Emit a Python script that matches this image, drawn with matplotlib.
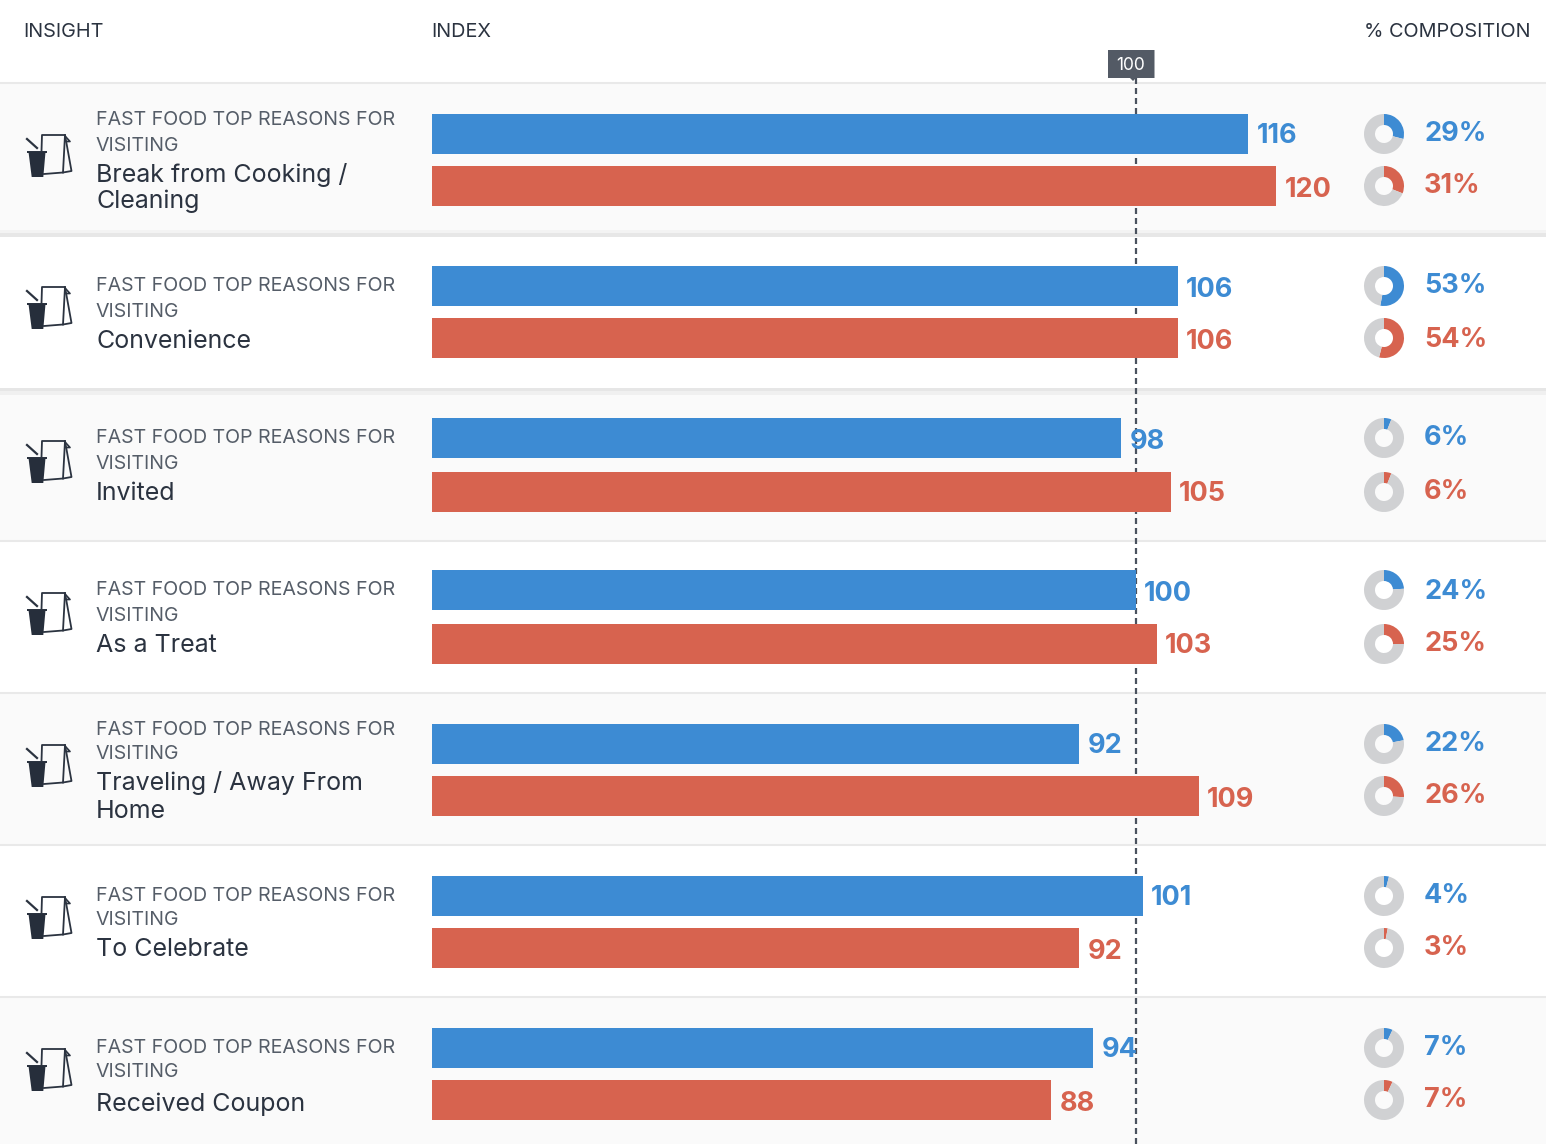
import matplotlib
matplotlib.use("Agg")
import matplotlib.pyplot as plt
from matplotlib.patches import Polygon, Rectangle

plt.rcParams['font.family'] = ['Inter', 'DejaVu Sans']

W, H = 1546, 1144
BLUE = '#3d8bd3'
RED = '#d7634f'
GREY = '#d0d1d3'
DARK = '#2b3340'
SUB = '#555d68'

# data
names = [["Break from Cooking /", "Cleaning"], ["Convenience"], ["Invited"], ["As a Treat"],
         ["Traveling / Away From", "Home"], ["To Celebrate"], ["Received Coupon"]]
subtitle = ["FAST FOOD TOP REASONS FOR", "VISITING"]
index_blue = [116, 106, 98, 100, 92, 101, 94]
index_red = [120, 106, 105, 103, 109, 92, 88]
comp_blue = [29, 53, 6, 24, 22, 4, 7]
comp_red = [31, 54, 6, 25, 26, 3, 7]
headers = ["INSIGHT", "INDEX", "% COMPOSITION"]

# layout in pixels
row_tops = [83, 237, 393, 541, 693, 845, 997]
row_bots = [235, 389, 541, 693, 845, 997, 1144]
shaded = [True, False, True, False, True, False, True]
blue_y = [114, 266, 418, 570, 724, 876, 1028]
red_y = [166, 318, 472, 624, 776, 928, 1080]
BAR_H = 40
PX_PER_UNIT = 7.035
icon_y = [135, 287, 441, 593, 745, 897, 1049]
sub_y = [(120, 146), (286, 312), (438, 464), (590, 616), (730, 754), (896, 920), (1048, 1072)]
name_y = [(175, 201), (342,), (494,), (646,), (783, 811), (950,), (1104,)]
val_off = [(2, 4), (4, 4), (4, 2), (4, 2), (2, 4), (2, 4), (2, 4)]
pct_off = [(0, 0), (0, 2), (0, 0), (2, 0), (0, 0), (0, 0), (0, 0)]


def add_axes_px(x0, y0, x1, y1, **kw):
    return fig.add_axes([x0 / W, 1 - y1 / H, (x1 - x0) / W, (y1 - y0) / H], **kw)


def draw_icon(ax, y):
    # y is the top of the bag
    dy = y - 135
    pts = [(41.5, 151), (42, 135), (65, 135), (71.5, 171), (63, 172.5), (44, 174)]
    ax.plot([a for a, b in pts], [b + dy for a, b in pts], color=DARK, lw=1.3, zorder=3)
    ax.plot([65, 63], [135 + dy, 172.5 + dy], color=DARK, lw=1.3, zorder=3)
    ax.plot([65, 70, 66], [136 + dy, 141.5 + dy, 141.5 + dy], color=DARK, lw=1.2, zorder=3)
    ax.plot([27, 37], [139 + dy, 148 + dy], color=DARK, lw=1.6, zorder=3)
    ax.add_patch(Rectangle((26.7, 151 + dy), 20.6, 2.4, fc=DARK, ec='none', zorder=4))
    cup = [(28.5, 152), (45.5, 152), (43.3, 177), (31.7, 177)]
    ax.add_patch(Polygon([(a, b + dy) for a, b in cup], fc='#262e3b', ec='none', zorder=4))


fig = plt.figure(figsize=(W / 100, H / 100), dpi=100, facecolor='white')

# background layer, in pixels
bg = add_axes_px(0, 0, W, H, zorder=0)
bg.set_xlim(0, W)
bg.set_ylim(H, 0)
bg.axis('off')

for top, bot, s in zip(row_tops, row_bots, shaded):
    if s:
        bg.add_patch(Rectangle((0, top), W, bot - top, fc='#fafafa', ec='none'))
for y in [83, 541, 693, 845, 997]:
    bg.plot([0, W], [y, y], color='#e9e9e9', lw=1.5)
for y0, y1, c in [(230, 233, '#f3f3f3'), (233, 237, '#e7e7e7'), (388, 391, '#e6e6e6'), (391, 395, '#f0f0f0')]:
    bg.add_patch(Rectangle((0, y0), W, y1 - y0, fc=c, ec='none'))

# bars
bars = add_axes_px(432, 78, W, H, zorder=1)
bars.patch.set_alpha(0)
bars.set_xlim(0, (W - 432) / PX_PER_UNIT)
bars.set_ylim(H, 78)
bars.axis('off')
bars.axvline(100, color='#4a525e', lw=1.6, dashes=(2.7, 1.8), zorder=1)
bars.barh([y + BAR_H / 2 for y in blue_y], index_blue, height=BAR_H, color=BLUE, zorder=2)
bars.barh([y + BAR_H / 2 for y in red_y], index_red, height=BAR_H, color=RED, zorder=2)

for i in range(7):
    bars.annotate(str(index_blue[i]), (index_blue[i], blue_y[i] + 20 + val_off[i][0]), xytext=(6, 0),
                  textcoords='offset points', color=BLUE, fontsize=19.5, fontweight='bold', va='center', ha='left')
    bars.annotate(str(index_red[i]), (index_red[i], red_y[i] + 20 + val_off[i][1]), xytext=(6, 0),
                  textcoords='offset points', color=RED, fontsize=19.5, fontweight='bold', va='center', ha='left')

# text and icons on top
top = add_axes_px(0, 0, W, H, zorder=2)
top.patch.set_alpha(0)
top.set_xlim(0, W)
top.set_ylim(H, 0)
top.axis('off')

top.text(23, 32, headers[0], fontsize=14.3, color=DARK, va='center')
top.text(431, 32, headers[1], fontsize=14.3, color=DARK, va='center')
top.text(1531, 32, headers[2], fontsize=14.3, color=DARK, va='center', ha='right')

top.add_patch(Polygon([(1108, 50), (1154.5, 50), (1154.5, 78), (1136, 78), (1133, 81), (1130, 78), (1108, 78)],
                      fc='#535a65', ec='none'))
top.text(1131, 65, "100", fontsize=12.5, color='white', ha='center', va='center')

for i in range(7):
    draw_icon(top, icon_y[i])
    for y, s in zip(sub_y[i], subtitle):
        top.text(96, y, s, fontsize=14.1, color=SUB, va='center')
    for y, s in zip(name_y[i], names[i]):
        top.text(96, y, s, fontsize=18, color=DARK, va='center')
    top.text(1424, blue_y[i] + 20 + pct_off[i][0], "%d%%" % comp_blue[i], color=BLUE, fontsize=19.5,
             fontweight='bold', va='center')
    top.text(1424, red_y[i] + 20 + pct_off[i][1], "%d%%" % comp_red[i], color=RED, fontsize=19.5,
             fontweight='bold', va='center')

    # donuts
    for y, v, c in [(blue_y[i], comp_blue[i], BLUE), (red_y[i], comp_red[i], RED)]:
        d = add_axes_px(1364, y, 1404, y + 40, zorder=3)
        d.pie([v, 100 - v], colors=[c, GREY], startangle=90, counterclock=False, radius=1,
              wedgeprops=dict(width=0.55, linewidth=0))
        d.set_xlim(-1, 1)
        d.set_ylim(-1, 1)

fig.savefig("out.png", dpi=100, facecolor='white')
